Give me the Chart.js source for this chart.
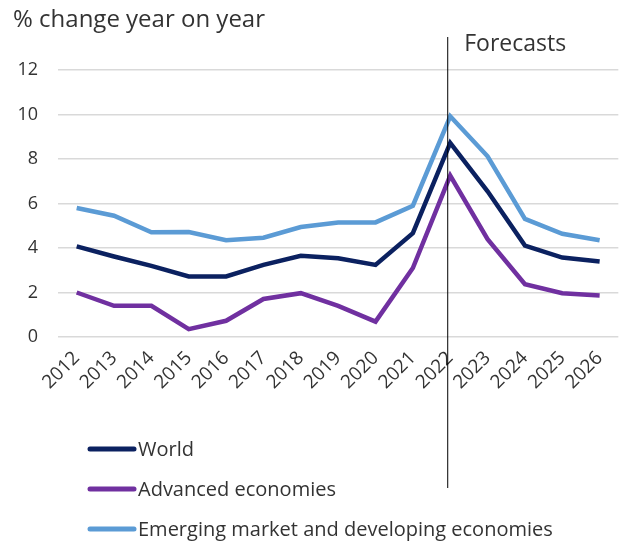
<!DOCTYPE html>
<html>
<head>
<meta charset="utf-8">
<script src="https://cdn.jsdelivr.net/npm/chart.js@4/dist/chart.umd.min.js"></script>
<style>
  html, body { margin: 0; padding: 0; background: #fff; }
  #wrap { width: 626px; height: 546px; position: relative; }
</style>
</head>
<body>
<div id="wrap"><canvas id="chart" width="626" height="546"></canvas></div>
<script>
const years = ['2012','2013','2014','2015','2016','2017','2018','2019','2020','2021','2022','2023','2024','2025','2026'];
const world = [4.07, 3.62, 3.2, 2.72, 2.72, 3.24, 3.65, 3.54, 3.24, 4.67, 8.72, 6.55, 4.11, 3.57, 3.39];
const advanced = [2.0, 1.4, 1.4, 0.35, 0.73, 1.71, 1.97, 1.4, 0.69, 3.1, 7.25, 4.4, 2.37, 1.97, 1.86];
const emerging = [5.8, 5.45, 4.71, 4.72, 4.35, 4.46, 4.94, 5.15, 5.15, 5.9, 9.92, 8.12, 5.31, 4.64, 4.35];
const yTicks = [0, 2, 4, 6, 8, 10, 12];
const forecastYear = '2022';

const FONT = '"Open Sans", sans-serif';
const TEXT = '#333333';

// title, forecast marker and the stacked legend
const extras = {
  id: 'extras',
  afterDraw(chart) {
    const ctx = chart.ctx;
    const x = chart.scales.x.getPixelForValue(years.indexOf(forecastYear)) - 3;
    ctx.save();
    ctx.strokeStyle = '#000';
    ctx.lineWidth = 1;
    ctx.beginPath();
    ctx.moveTo(x + 0.5, 37);
    ctx.lineTo(x + 0.5, 488);
    ctx.stroke();

    ctx.fillStyle = TEXT;
    ctx.textBaseline = 'alphabetic';
    ctx.font = '23px ' + FONT;
    ctx.fillText('Forecasts', x + 17, 51);
    ctx.font = '24px ' + FONT;
    ctx.fillText('% change year on year', 13, 27);

    ctx.font = '20px ' + FONT;
    ctx.textBaseline = 'middle';
    ctx.lineCap = 'round';
    chart.data.datasets.forEach((ds, i) => {
      const y = 449 + i * 40;
      ctx.strokeStyle = ds.borderColor;
      ctx.lineWidth = 5;
      ctx.beginPath();
      ctx.moveTo(90, y);
      ctx.lineTo(134, y);
      ctx.stroke();
      ctx.fillStyle = TEXT;
      ctx.fillText(ds.label, 138, y + 1);
    });
    ctx.restore();
  }
};

new Chart(document.getElementById('chart'), {
  type: 'line',
  data: {
    labels: years,
    datasets: [
      { label: 'World', data: world, borderColor: '#0b2160' },
      { label: 'Advanced economies', data: advanced, borderColor: '#7030a0' },
      { label: 'Emerging market and developing economies', data: emerging, borderColor: '#5b9bd5' }
    ].map(d => Object.assign(d, { borderWidth: 4.5, pointRadius: 0, tension: 0, fill: false, borderJoinStyle: 'miter' }))
  },
  options: {
    responsive: false,
    animation: false,
    layout: { padding: { top: 70, right: 7, left: 0, bottom: 0 } },
    plugins: { legend: { display: false }, tooltip: { enabled: false } },
    scales: {
      x: {
        offset: true,
        grid: { display: false, drawTicks: false },
        border: { display: false },
        ticks: { color: TEXT, font: { family: FONT, size: 19 }, minRotation: 45, maxRotation: 45, padding: 10, autoSkip: false },
        afterFit(s) { s.height = 209; }
      },
      y: {
        min: 0, max: 12,
        afterBuildTicks(s) { s.ticks = yTicks.map(v => ({ value: v })); },
        grid: { color: '#d9d9d9', lineWidth: 1.5, drawTicks: false },
        border: { display: false },
        ticks: { color: TEXT, font: { family: FONT, size: 18 }, padding: 20 },
        afterFit(s) { s.width = 58; }
      }
    }
  },
  plugins: [extras]
});
</script>
</body>
</html>
